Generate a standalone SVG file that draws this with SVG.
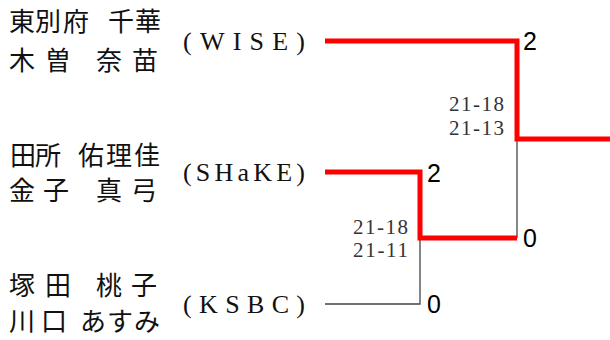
<svg xmlns="http://www.w3.org/2000/svg" width="610" height="340" viewBox="0 0 610 340">
<style>
.nm{font-family:"Noto Sans CJK JP","Noto Sans CJK SC",sans-serif;font-size:26px;fill:#111}
.tm{font-family:"Liberation Serif",serif;font-size:26px;fill:#111}
.sc{font-family:"Liberation Sans",Arial,sans-serif;font-size:25px;fill:#000}
.gs{font-family:"Liberation Serif",serif;font-size:21px;fill:#333}
.win{fill:none;stroke:#ff0000;stroke-width:5;stroke-linejoin:miter}
.lose{fill:none;stroke:#444;stroke-width:1.3}
</style>
<rect width="610" height="340" fill="#fff"/>
<g id="connectors">
<polyline class="lose" points="325,304 420,304 420,238"/>
<polyline class="lose" points="517,238 517,139"/>
<polyline class="win" points="325,41 517,41 517,139 610,139"/>
<polyline class="win" points="325,172 420,172 420,238 517,238"/>
</g>
<g id="team-wise">
<text class="nm" x="9 35 63 108 135" y="31">東別府千華</text>
<text class="nm" x="9 45 96 132" y="70">木曽奈苗</text>
<text class="tm" x="183" y="50" textLength="122" lengthAdjust="spacing">(WISE)</text>
</g>
<g id="team-shake">
<text class="nm" x="10 35 78 106 134" y="165">田所佑理佳</text>
<text class="nm" x="9 43 96 131" y="200">金子真弓</text>
<text class="tm" x="183" y="181" textLength="122" lengthAdjust="spacing">(SHaKE)</text>
</g>
<g id="team-ksbc">
<text class="nm" x="9 45 96 131" y="295">塚田桃子</text>
<text class="nm" x="9 41 80 107 134" y="331">川口あすみ</text>
<text class="tm" x="183" y="313" textLength="122" lengthAdjust="spacing">(KSBC)</text>
</g>
<g id="scores">
<text class="sc" x="523" y="50">2</text>
<text class="sc" x="427" y="182">2</text>
<text class="sc" x="523" y="247">0</text>
<text class="sc" x="427" y="313">0</text>
<text class="gs" x="449" y="111" textLength="55" lengthAdjust="spacing">21-18</text>
<text class="gs" x="449" y="135" textLength="55" lengthAdjust="spacing">21-13</text>
<text class="gs" x="353" y="234" textLength="55" lengthAdjust="spacing">21-18</text>
<text class="gs" x="353" y="257" textLength="55" lengthAdjust="spacing">21-11</text>
</g>
</svg>
